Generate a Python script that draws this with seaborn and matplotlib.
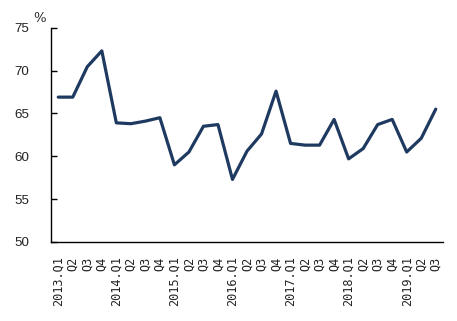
import matplotlib
matplotlib.use("Agg")
import matplotlib.pyplot as plt
import seaborn as sns
import pandas as pd
import numpy as np

quarters = ["2013.Q1", "Q2", "Q3", "Q4",
            "2014.Q1", "Q2", "Q3", "Q4",
            "2015.Q1", "Q2", "Q3", "Q4",
            "2016.Q1", "Q2", "Q3", "Q4",
            "2017.Q1", "Q2", "Q3", "Q4",
            "2018.Q1", "Q2", "Q3", "Q4",
            "2019.Q1", "Q2", "Q3"]
values = [66.9, 66.9, 70.45, 72.3,
          63.9, 63.8, 64.1, 64.5,
          59.0, 60.5, 63.5, 63.7,
          57.3, 60.6, 62.6, 67.6,
          61.5, 61.3, 61.3, 64.3,
          59.7, 60.9, 63.7, 64.3,
          60.5, 62.1, 65.5]
yticks = [50, 55, 60, 65, 70, 75]

sns.set_theme(style="white")
plt.rcParams["font.family"] = ["DejaVu Sans"]

df = pd.DataFrame({"pos": np.arange(len(quarters)), "value": values})

fig = plt.figure(figsize=(4.57, 3.21), dpi=100)
ax = fig.add_axes([51/457, 1-242/321, (443-51)/457, (242-27.7)/321])

sns.lineplot(data=df, x="pos", y="value", ax=ax, color="#1f3a60", linewidth=2.3)

ax.set_xlim(-0.5, len(quarters) - 0.5)
ax.set_ylim(50, 75)
ax.set_yticks(yticks)
ax.set_yticklabels([str(v) for v in yticks], fontsize=9.6, color="#222222",
                   family="Liberation Sans")
ax.set_xticks(df["pos"])
ax.set_xticklabels(quarters, rotation=90, fontsize=8.6, family="DejaVu Sans Mono",
                   color="#222222", va="top")
ax.tick_params(axis="x", which="major", length=0, pad=10.5)
ax.set_xticks(np.arange(1.5, len(quarters) - 1, 2), minor=True)
ax.tick_params(axis="x", which="minor", direction="in", length=4, width=1, color="#000000")
ax.tick_params(axis="y", direction="in", length=4, width=1, color="#000000", pad=15.5, left=True)
ax.set_xlabel("")
ax.set_ylabel("")
for s in ["top", "right"]:
    ax.spines[s].set_visible(False)
for s in ["left", "bottom"]:
    ax.spines[s].set_color("#000000")
    ax.spines[s].set_linewidth(1.0)
ax.grid(False)

fig.text(40/457, 1-18/321, "%", fontsize=9.5, ha="center", va="center",
         family="DejaVu Serif", color="#222222")

fig.savefig("out.png", dpi=100)
